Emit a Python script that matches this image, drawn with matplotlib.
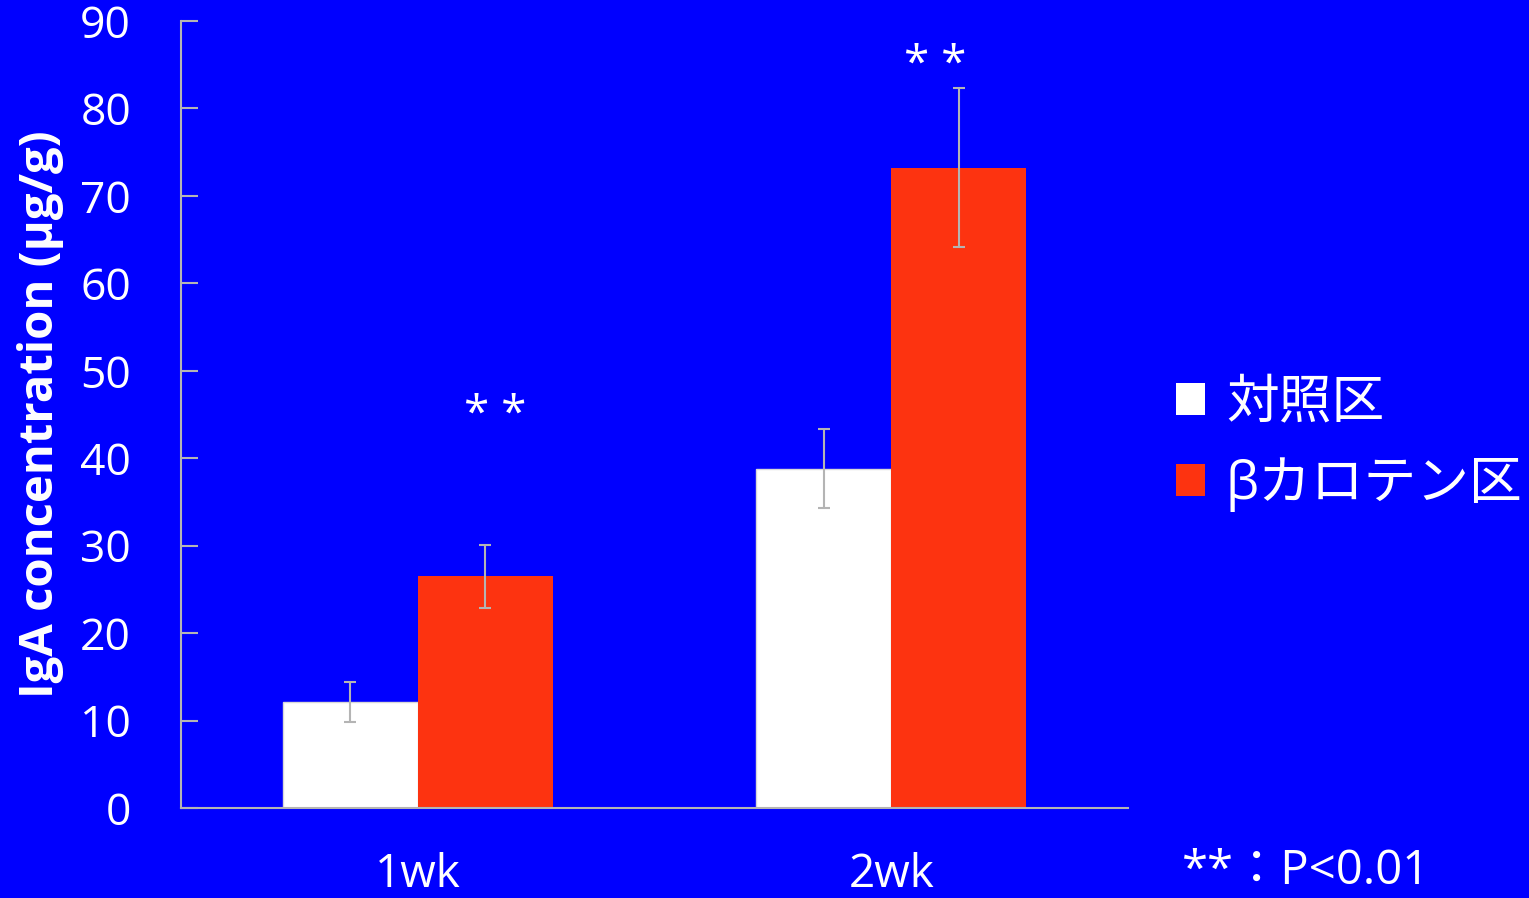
import numpy as np
import matplotlib
matplotlib.use("Agg")
import matplotlib.pyplot as plt
from matplotlib.patches import Patch

# data
weeks = ["1wk", "2wk"]
control = [12.1, 38.8]
control_err = [2.3, 4.5]
carotene = [26.5, 73.2]
carotene_err = [3.6, 9.1]
series_names = ["対照区", "βカロテン区"]
star_x = [0.163, 1.093]
star_y = [44.8, 84.8]

BG = "#0000FF"
RED = "#FD3310"
GREY = "#B4B4B4"
FONTS = ["Open Sans", "Noto Sans CJK JP", "DejaVu Sans"]

plt.rcParams["font.family"] = FONTS

fig = plt.figure(figsize=(15.29, 8.98), dpi=100, facecolor=BG)
ax = fig.add_axes([0.1184, 0.1002, 0.6193, 0.8764], facecolor=BG)

x = np.arange(len(weeks))
w = 0.285
err_kw = dict(ecolor=GREY, elinewidth=1.5, capsize=4.5, capthick=1.5)
ax.bar(x - w / 2, control, w, yerr=control_err, color="white",
       edgecolor="#D8D8D8", linewidth=1, error_kw=err_kw, label=series_names[0])
ax.bar(x + w / 2, carotene, w, yerr=carotene_err, color=RED,
       error_kw=err_kw, label=series_names[1])

for sx, sy in zip(star_x, star_y):
    ax.text(sx, sy, "* *", color="white", fontsize=33, ha="center", va="center")

ax.set_xlim(-0.5, 1.5)
ax.set_ylim(0, 90)
ax.set_yticks(range(0, 91, 10))
ax.set_xticks(x)
ax.set_xticklabels(weeks)

for side in ["top", "right"]:
    ax.spines[side].set_visible(False)
for side in ["left", "bottom"]:
    ax.spines[side].set_color(GREY)
    ax.spines[side].set_linewidth(1.5)

ax.tick_params(axis="y", direction="in", length=12, width=1.5, color=GREY,
               labelcolor="white", labelsize=32, pad=36)
ax.tick_params(axis="x", length=0, labelcolor="white", labelsize=33, pad=32)

ax.set_ylabel("IgA concentration (µg/g)", color="white", fontsize=34,
              fontweight="bold")
ax.yaxis.set_label_coords(-0.124, 0.5)

handles = [Patch(facecolor="white"), Patch(facecolor=RED)]
leg = fig.legend(handles, series_names, loc="center left",
                 bbox_to_anchor=(0.769, 0.505), frameon=False, fontsize=38,
                 handlelength=0.55, handleheight=0.55, handletextpad=0.4,
                 labelspacing=0.5, borderpad=0, borderaxespad=0)
for t in leg.get_texts():
    t.set_color("white")

fig.text(0.773, 0.03, "**：P<0.01", color="white", fontsize=34,
         ha="left", va="center")

fig.savefig("out.png", dpi=100, facecolor=BG)
